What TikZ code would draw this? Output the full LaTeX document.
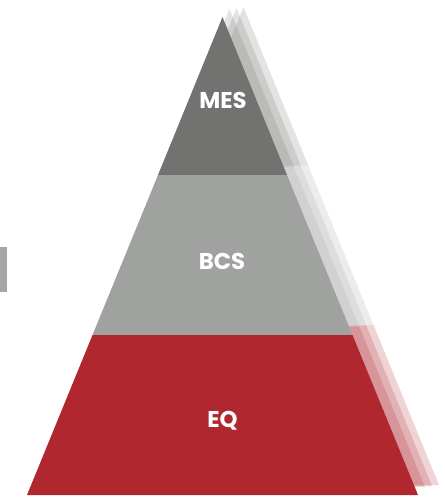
\documentclass[tikz,border=0pt]{standalone}
\usepackage{fontspec}
\newfontfamily\labelfont{Poppins}
\usepackage{tikz}
\usetikzlibrary{positioning}

\definecolor{mesgray}{HTML}{727270}
\definecolor{bcsgray}{HTML}{A0A2A0}
\definecolor{eqred}{HTML}{B0272F}

\tikzset{
  tier/.style={draw=none},
  tierlabel/.style={text=white, font=\labelfont\bfseries\fontsize{13}{15}\selectfont}
}

% the three tiers, from the top down
\newcommand{\pyramidtiers}{%
  \fill[tier, mesgray] (222.5,17) -- (287,175) -- (158,175) -- cycle;
  \fill[tier, bcsgray] (158,175) -- (287,175) -- (352.5,335) -- (92.5,335) -- cycle;
  \fill[tier, eqred] (92.5,335) -- (352.5,335) -- (418,495) -- (27,495) -- cycle;
}

\begin{document}
\begin{tikzpicture}[x=0.02cm, y=-0.02cm]
    \useasboundingbox (0,0) rectangle (444,500);
    % faded copies behind
    \foreach \dx/\dy in {21/-10,14/-9,7/-8} {
      \begin{scope}[shift={(\dx,\dy)}, fill opacity=0.2]
        \pyramidtiers
      \end{scope}
    }
    % the pyramid itself
    \pyramidtiers
    \node[tierlabel] (mes) at (223,100) {MES};
    \node[tierlabel] (bcs) at (222,261) {BCS};
    \node[tierlabel] (eq) at (222.5,421) {EQ};
    % small tab at the left edge
    \fill[gray!70] (0,247) rectangle (7,292);
\end{tikzpicture}
\end{document}
